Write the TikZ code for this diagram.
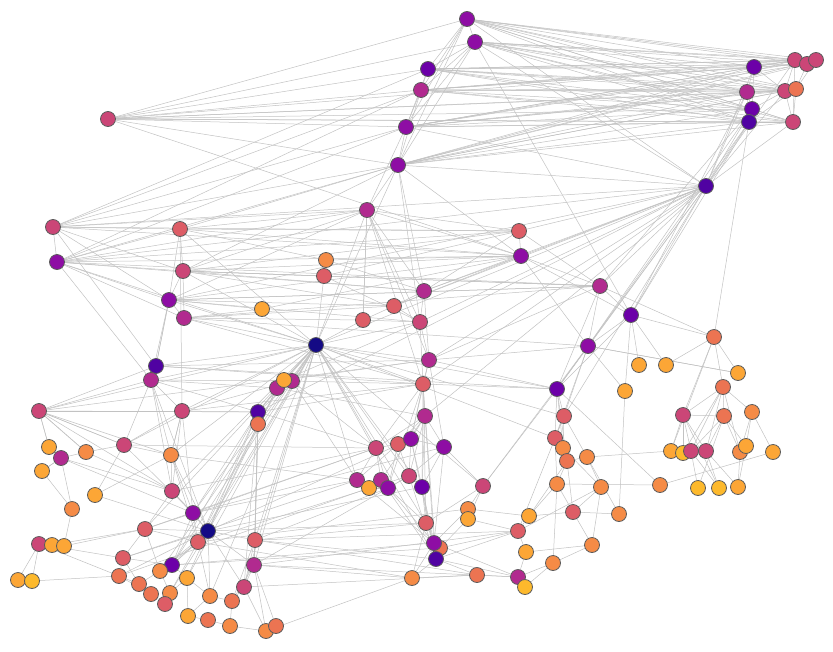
\documentclass[tikz,border=0pt]{standalone}
\usetikzlibrary{backgrounds}
\definecolor{p0}{HTML}{140A85}
\definecolor{p1}{HTML}{5002A2}
\definecolor{p2}{HTML}{6C00A8}
\definecolor{p3}{HTML}{8E0DA4}
\definecolor{p4}{HTML}{B12A8F}
\definecolor{p5}{HTML}{CB4677}
\definecolor{p6}{HTML}{DD5D66}
\definecolor{p7}{HTML}{EC7452}
\definecolor{p8}{HTML}{F58B46}
\definecolor{p9}{HTML}{FCA636}
\definecolor{p10}{HTML}{FDB92C}
\definecolor{edgec}{HTML}{C2C2C2}
\definecolor{rimc}{HTML}{5C5C5C}
\tikzset{
  nd/.style={circle, draw=rimc, line width=0.8pt, minimum size=15pt, inner sep=0pt},
  ed/.style={draw=edgec, line width=0.5pt}
}
\begin{document}
\begin{tikzpicture}[x=1pt,y=-1pt]
\useasboundingbox (0,0) rectangle (833,651);
\foreach \i/\x/\y/\c in {
1/467/19/p3, 2/475/42/p3, 3/428/69/p2, 4/421/90/p4, 5/406/127/p3, 6/398/165/p3, 7/108/119/p5,
8/754/67/p2, 9/747/92/p4, 10/752/109/p2, 11/749/122/p1, 12/795/60/p5, 13/807/64/p5, 14/816/60/p5,
15/785/91/p5, 16/796/89/p7, 17/793/122/p5, 18/706/186/p1, 19/367/210/p4,
20/53/227/p5, 21/57/262/p3, 22/180/229/p6, 23/183/271/p5, 24/169/300/p3, 25/184/318/p4, 26/262/309/p9,
27/156/366/p1, 28/151/380/p4, 29/39/411/p5, 30/182/411/p5, 31/258/412/p1, 32/258/424/p7,
34/292/381/p4, 35/277/388/p4, 33/284/380/p9,
37/326/260/p8, 38/324/276/p6, 39/519/231/p6, 40/521/256/p3, 41/424/291/p4, 42/394/306/p6, 43/363/320/p6,
44/420/322/p5, 45/316/345/p0, 46/429/360/p4, 47/423/384/p6, 48/425/416/p4, 49/557/389/p2,
50/600/286/p4, 51/631/315/p2, 52/588/346/p3, 53/714/337/p7, 54/639/365/p9, 55/666/365/p9, 56/738/373/p9,
57/625/391/p9, 58/723/387/p7, 59/564/416/p6, 60/683/415/p5, 61/724/416/p7, 62/752/412/p8,
63/671/451/p9, 64/683/453/p10, 65/691/451/p5, 66/706/451/p5, 67/740/452/p8, 68/746/446/p9, 69/773/452/p9,
70/660/485/p8, 71/698/488/p10, 72/719/488/p10, 73/738/487/p9,
74/555/438/p6, 75/563/448/p8, 76/567/461/p7, 77/587/457/p8, 78/557/484/p8, 79/601/487/p8, 80/573/512/p6,
81/619/514/p8, 82/592/545/p8, 83/553/563/p8,
84/376/448/p5, 85/398/444/p6, 86/411/439/p3, 87/444/447/p3, 88/357/480/p4, 89/369/488/p9, 90/381/480/p4,
91/388/488/p3, 92/409/476/p5, 93/422/487/p2, 94/483/486/p5, 95/468/509/p8, 96/468/519/p9, 97/426/523/p6,
99/440/548/p7, 98/434/543/p3, 100/436/559/p1, 101/412/578/p8, 102/477/575/p7, 103/518/531/p6, 104/529/516/p9,
105/526/552/p9, 106/518/577/p4, 107/525/587/p10,
109/49/447/p9, 110/61/458/p4, 111/86/452/p8, 112/124/445/p5, 113/171/455/p8, 114/42/471/p9, 115/95/495/p9,
116/172/491/p5, 117/72/509/p8, 118/193/513/p3, 119/208/531/p0, 120/145/529/p6, 121/198/542/p6, 122/255/540/p6,
123/39/544/p5, 124/52/545/p9, 125/64/546/p9, 126/123/558/p6, 127/172/565/p2, 128/254/565/p4, 129/18/580/p9,
130/32/581/p10, 131/119/576/p7, 132/160/571/p8, 133/187/578/p9, 134/139/584/p7, 135/151/594/p7, 136/170/593/p8,
137/165/604/p6, 138/210/596/p8, 139/232/601/p7, 140/244/587/p5, 141/188/616/p9, 142/208/620/p7, 143/230/626/p8,
144/266/631/p8, 145/276/626/p7}
  \node[nd, fill=\c] (n\i) at (\x,\y) {};
\begin{scope}[on background layer]
\foreach \a in {1,...,6} \foreach \b in {8,...,17} \draw[ed] (n\a) -- (n\b);
\foreach \a/\b in {
7/1,7/2,7/3,7/4,7/5,7/6,7/8,7/9,7/10,7/11,7/15,7/17,7/40,
1/2,1/3,1/4,1/5,1/6,2/3,2/4,2/5,2/6,3/4,3/5,4/5,4/6,5/6,6/19,5/19,2/51,2/18,1/18,
8/9,8/10,9/10,10/11,9/11,8/12,8/13,8/15,9/15,9/16,10/15,10/17,11/17,11/16,12/13,13/14,12/14,15/16,16/17,
12/15,13/16,15/17,14/16,12/17,8/18,9/18,10/18,11/18,12/18,15/18,17/18,11/53,11/51,10/52,11/49,9/51,10/50,
18/39,18/40,18/41,18/42,18/44,18/46,18/47,18/49,18/50,18/51,18/52,18/59,18/24,18/21,18/20,18/45,18/31,18/48,18/6,18/5,
6/20,6/21,6/22,6/23,6/45,6/41,6/44,6/40,5/20,5/21,4/20,3/20,4/21,
19/20,19/21,19/22,19/23,19/24,19/41,19/43,19/44,19/45,19/47,19/46,19/39,19/40,
20/21,20/22,20/23,20/39,20/40,20/24,20/27,21/22,21/39,21/40,21/24,21/25,21/28,21/23,21/45,
22/23,22/39,22/40,22/24,22/30,22/45,23/24,23/40,23/39,23/41,23/45,23/25,23/50,
24/25,24/27,24/40,24/45,24/44,24/28,24/50,25/50,25/52,25/47,25/45,25/42,25/26,26/24,26/40,
37/38,37/40,37/41,37/22,38/45,38/23,38/39,38/44,
39/40,39/41,40/41,40/42,40/52,40/50,41/42,41/44,42/43,42/44,43/44,43/19,44/46,46/47,47/48,41/46,44/47,
39/50,40/51,50/51,50/52,51/52,52/49,51/49,50/49,51/53,51/54,51/55,51/57,52/56,52/59,52/46,50/46,50/53,
52/57,49/59,49/74,49/75,49/70,49/46,49/47,49/45,50/24,50/23,50/21,
45/43,45/44,45/46,45/47,45/31,45/33,45/34,45/35,45/28,45/27,45/30,45/119,45/121,45/118,45/127,45/122,
45/128,45/84,45/88,45/92,45/97,45/59,45/116,45/120,45/112,45/29,45/113,45/133,45/132,45/138,45/140,
45/93,45/74,45/100,45/94,
27/28,27/29,27/49,27/46,27/24,27/47,28/29,28/31,28/30,28/116,28/113,28/112,28/119,28/35,28/34,
29/30,29/112,29/113,29/109,29/111,29/116,29/31,29/46,
30/31,30/113,30/116,30/34,30/112,30/118,30/47,
31/32,31/119,31/118,31/121,31/127,31/122,31/128,31/140,31/34,31/47,31/84,31/35,31/33,
32/122,32/128,32/119,32/33,33/34,34/35,33/44,34/47,35/119,35/121,34/88,33/46,35/48,34/84,
48/86,48/85,47/84,47/86,47/91,47/93,48/92,48/93,46/86,46/87,48/87,48/84,48/90,47/97,48/98,47/100,
84/85,85/86,86/87,84/88,88/89,89/90,90/91,91/92,92/93,84/90,85/91,86/92,87/93,87/94,93/97,93/98,91/98,
92/100,86/100,88/98,90/100,87/98,85/92,84/91,86/93,88/91,89/91,85/88,87/92,93/100,91/97,
97/98,98/99,99/100,100/101,100/102,100/106,98/95,99/96,97/101,98/106,99/103,100/103,97/94,95/96,94/96,
94/95,94/52,94/49,95/104,96/103,102/106,102/101,101/98,
103/104,103/105,105/106,106/107,106/83,104/80,103/79,105/82,104/78,107/83,103/59,104/76,
59/74,74/75,75/76,76/77,74/78,76/78,77/79,78/80,79/80,80/81,80/82,82/83,59/75,52/74,49/76,59/77,75/79,
76/80,77/81,79/82,78/83,70/78,63/77,57/81,
53/55,53/58,53/60,53/56,58/61,58/60,58/62,60/61,60/65,61/66,61/67,62/69,62/68,58/66,60/63,60/64,65/66,
65/71,66/72,67/73,68/73,70/69,58/67,61/65,60/66,58/65,61/68,62/67,52/56,61/71,66/73,65/72,58/64,60/72,63/53,
109/110,110/111,110/114,111/112,112/113,114/117,116/118,116/113,118/119,118/121,120/121,120/126,123/124,
124/125,123/126,123/129,123/130,129/130,130/131,126/131,126/127,127/132,127/133,127/121,132/134,134/135,
135/137,136/137,136/133,133/138,138/139,139/140,140/128,128/122,138/141,139/143,140/144,128/145,142/143,
143/144,144/145,141/142,109/29,111/29,112/29,113/30,116/120,117/125,115/112,115/119,115/113,117/110,
110/116,110/118,111/116,112/118,113/121,113/118,114/110,119/120,119/121,119/127,119/132,119/133,119/136,
119/138,119/122,119/116,119/113,119/126,119/131,119/128,119/140,118/127,118/120,121/132,121/136,121/138,
120/132,122/140,122/139,128/139,128/144,125/120,124/120,123/131,126/134,131/134,131/135,132/136,133/141,
119/97,119/93,121/95,128/101,127/99,120/84,126/88,131/89,122/103,122/100,122/97,128/106,118/88,118/84,
116/84,113/88,112/84,121/101,122/102,128/103,140/102,144/101,128/92,122/91,119/86,121/92,118/87,127/98,
21/41,24/42,25/43,23/42}
  \draw[ed] (n\a) -- (n\b);
\end{scope}
\end{tikzpicture}
\end{document}
